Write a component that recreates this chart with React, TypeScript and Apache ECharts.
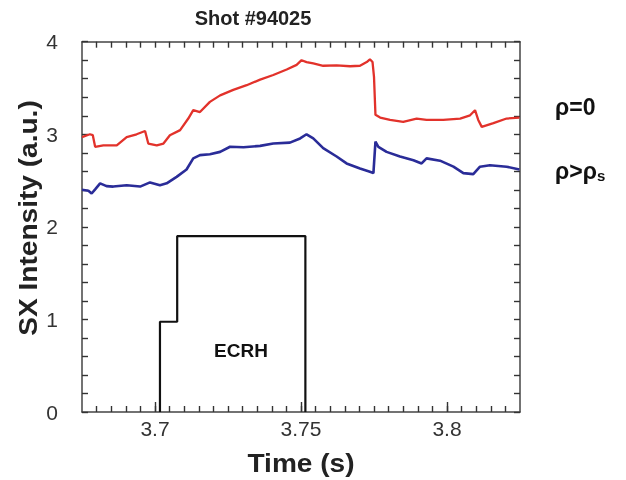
import React, { useEffect, useRef } from "react";
import * as echarts from "echarts";

// Time (s) and SX intensity (a.u.) for rho = 0 (red)
const redTime = [3.675, 3.6777, 3.6787, 3.6795, 3.6823, 3.6869, 3.6903, 3.6937, 3.6966, 3.6977, 3.7006, 3.7029, 3.7051, 3.7086, 3.7114, 3.7131, 3.7154, 3.7188, 3.7223, 3.7268, 3.7314, 3.736, 3.7405, 3.7451, 3.7485, 3.7502, 3.7519, 3.7542, 3.7576, 3.7622, 3.7668, 3.7702, 3.7725, 3.7736, 3.7745, 3.775, 3.7755, 3.7771, 3.7805, 3.785, 3.7896, 3.793, 3.7987, 3.8045, 3.8079, 3.8096, 3.8107, 3.8119, 3.8159, 3.8204, 3.8248];
const redValue = [2.97, 3.0, 2.99, 2.865, 2.88, 2.88, 2.97, 3.0, 3.035, 2.9, 2.88, 2.9, 2.99, 3.045, 3.17, 3.26, 3.24, 3.35, 3.42, 3.48, 3.53, 3.59, 3.64, 3.7, 3.75, 3.8, 3.78, 3.765, 3.74, 3.745, 3.735, 3.74, 3.78, 3.81, 3.78, 3.62, 3.21, 3.18, 3.155, 3.135, 3.17, 3.155, 3.155, 3.17, 3.205, 3.26, 3.155, 3.08, 3.12, 3.17, 3.18];

// rho > rho_s (blue)
const blueTime = [3.675, 3.6772, 3.6783, 3.6795, 3.6812, 3.6834, 3.6857, 3.6903, 3.6949, 3.6983, 3.7017, 3.704, 3.7074, 3.7108, 3.7131, 3.7154, 3.7188, 3.7223, 3.7257, 3.7303, 3.736, 3.7405, 3.7462, 3.7497, 3.7519, 3.7542, 3.7576, 3.7622, 3.7656, 3.7702, 3.7736, 3.7748, 3.7755, 3.7765, 3.7793, 3.7839, 3.7885, 3.7913, 3.793, 3.7976, 3.8022, 3.8056, 3.809, 3.8113, 3.8147, 3.8204, 3.8248];
const blueValue = [2.4, 2.39, 2.36, 2.405, 2.47, 2.44, 2.435, 2.45, 2.435, 2.48, 2.45, 2.47, 2.54, 2.62, 2.74, 2.775, 2.785, 2.81, 2.865, 2.86, 2.875, 2.9, 2.91, 2.955, 3.0, 2.955, 2.85, 2.76, 2.685, 2.63, 2.595, 2.58, 2.92, 2.865, 2.81, 2.76, 2.72, 2.685, 2.74, 2.715, 2.65, 2.58, 2.57, 2.65, 2.665, 2.65, 2.62];

// ECRH pulse
const ecrhTime = [3.7017, 3.7017, 3.7076, 3.7076, 3.7515, 3.7515];
const ecrhValue = [0, 0.975, 0.975, 1.9, 1.9, 0];

const xMin = 3.675;
const xMax = 3.825;
const xLabels = [3.7, 3.75, 3.8];
const xMinorTicks = [3.68, 3.685, 3.69, 3.695, 3.7, 3.705, 3.71, 3.715, 3.72, 3.725, 3.73, 3.735, 3.74, 3.745, 3.75, 3.755, 3.76, 3.765, 3.77, 3.775, 3.78, 3.785, 3.79, 3.795, 3.8, 3.805, 3.81, 3.815, 3.82];
const yMin = 0;
const yMax = 4;

const zip = (a: number[], b: number[]) => a.map((v, i) => [v, b[i]]);

const FONT = 'Arial, "Liberation Sans", Helvetica, sans-serif';

const axisLineStyle = () => ({ color: "#444", width: 1.5 });
const tickStyle = () => ({ color: "#333", width: 1.4 });

export default function App() {
  const ref = useRef<HTMLDivElement>(null);
  useEffect(() => {
    if (!ref.current) return;
    const chart = echarts.init(ref.current, null, { renderer: "svg" });
    chart.setOption({
      animation: false,
      grid: { left: 82, right: 106, top: 41.7, bottom: 68 },
      xAxis: [
        {
          type: "value",
          min: xMin,
          max: xMax,
          position: "bottom",
          splitLine: { show: false },
          axisLine: { show: true, lineStyle: axisLineStyle() },
          axisTick: { show: true, inside: true, length: 6, customValues: xMinorTicks, lineStyle: tickStyle() },
          axisLabel: { show: true, customValues: xLabels, margin: 6, fontSize: 21, color: "#333", fontFamily: FONT },
        },
        {
          type: "value",
          min: xMin,
          max: xMax,
          position: "bottom",
          splitLine: { show: false },
          axisLine: { show: false },
          axisTick: { show: true, inside: true, length: 10, customValues: xLabels, lineStyle: tickStyle() },
          axisLabel: { show: false },
        },
        {
          type: "value",
          min: xMin,
          max: xMax,
          position: "top",
          splitLine: { show: false },
          axisLine: { show: true, lineStyle: axisLineStyle() },
          axisTick: { show: true, inside: true, length: 6, customValues: xMinorTicks, lineStyle: tickStyle() },
          axisLabel: { show: false },
        },
      ],
      yAxis: [
        {
          type: "value",
          min: yMin,
          max: yMax,
          interval: 1,
          position: "left",
          splitLine: { show: false },
          axisLine: { show: true, lineStyle: axisLineStyle() },
          axisTick: { show: true, inside: true, length: 6, lineStyle: tickStyle() },
          minorTick: { show: true, splitNumber: 5, length: 6, lineStyle: tickStyle() },
          axisLabel: { show: true, margin: 24, fontSize: 21, color: "#333", fontFamily: FONT },
        },
        {
          type: "value",
          min: yMin,
          max: yMax,
          interval: 1,
          position: "right",
          splitLine: { show: false },
          axisLine: { show: true, lineStyle: axisLineStyle() },
          axisTick: { show: true, inside: true, length: 6, lineStyle: tickStyle() },
          minorTick: { show: true, splitNumber: 5, length: 6, lineStyle: tickStyle() },
          axisLabel: { show: false },
        },
      ],
      series: [
        {
          type: "line",
          name: "ρ=0",
          data: zip(redTime, redValue),
          showSymbol: false,
          lineStyle: { color: "#e2322b", width: 2.3 },
        },
        {
          type: "line",
          name: "ρ>ρs",
          data: zip(blueTime, blueValue),
          showSymbol: false,
          lineStyle: { color: "#2a2c98", width: 2.6 },
        },
        {
          type: "line",
          name: "ECRH",
          data: zip(ecrhTime, ecrhValue),
          showSymbol: false,
          lineStyle: { color: "#111", width: 2.2 },
        },
      ],
      graphic: [
        {
          type: "text",
          x: 253,
          y: 18,
          style: { text: "Shot #94025", font: `bold 20px ${FONT}`, fill: "#222", align: "center", verticalAlign: "middle" },
        },
        {
          type: "text",
          x: 28,
          y: 218,
          rotation: Math.PI / 2,
          scaleX: 1.08,
          style: { text: "SX Intensity (a.u.)", font: `bold 26px ${FONT}`, fill: "#222", align: "center", verticalAlign: "middle" },
        },
        {
          type: "text",
          x: 301,
          y: 463,
          scaleX: 1.08,
          style: { text: "Time (s)", font: `bold 26px ${FONT}`, fill: "#222", align: "center", verticalAlign: "middle" },
        },
        {
          type: "text",
          x: 555,
          y: 107,
          style: { text: "ρ=0", font: `bold 23px ${FONT}`, fill: "#111", align: "left", verticalAlign: "middle" },
        },
        {
          type: "text",
          x: 555,
          y: 171,
          style: {
            text: "{a|ρ>ρ}{s|s}",
            rich: {
              a: { font: `bold 23px ${FONT}`, fill: "#111", verticalAlign: "middle" },
              s: { font: `bold 15px ${FONT}`, fill: "#111", padding: [8, 0, 0, 0] },
            },
            align: "left",
            verticalAlign: "middle",
          },
        },
        {
          type: "text",
          x: 241,
          y: 350,
          style: { text: "ECRH", font: `bold 19px ${FONT}`, fill: "#111", align: "center", verticalAlign: "middle" },
        },
      ],
    });
    return () => chart.dispose();
  }, []);
  return <div ref={ref} style={{ position: "fixed", left: 0, top: 0, width: 626, height: 480 }} />;
}
